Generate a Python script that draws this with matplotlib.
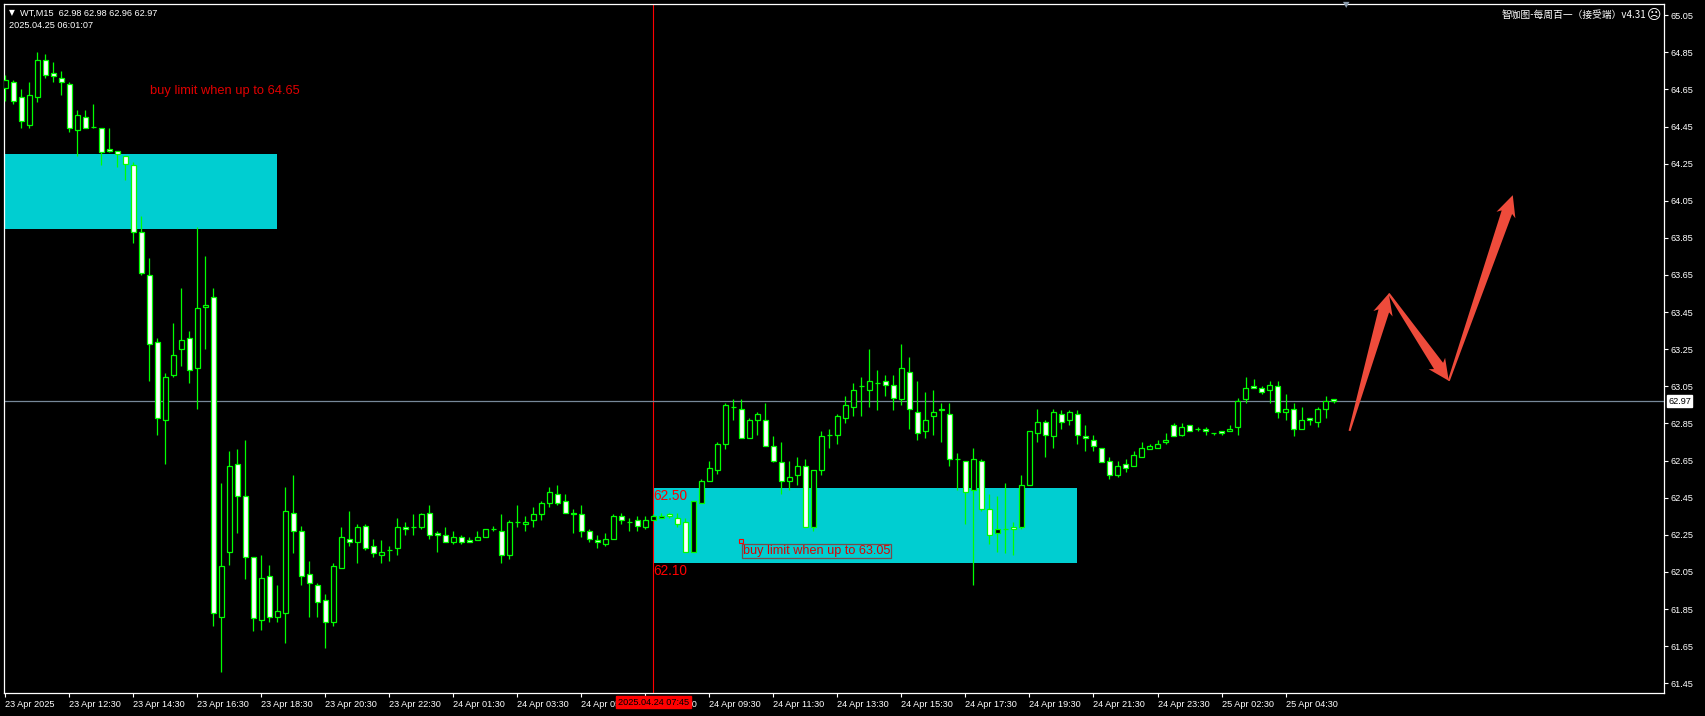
import numpy as np
import matplotlib
matplotlib.use('Agg')
import matplotlib.pyplot as plt
from matplotlib import font_manager
from matplotlib.patches import Rectangle, Polygon
from matplotlib.transforms import blended_transform_factory, IdentityTransform

W, H = 1706, 716

# WT M15 candles, 23 Apr 10:30 .. 25 Apr 06:00
opens = [64.66, 64.69, 64.61, 64.46, 64.61, 64.81, 64.74, 64.71, 64.68, 64.43,
         64.50, 64.45, 64.44, 64.33, 64.32, 64.29, 64.24, 63.88, 63.65, 63.29,
         62.87, 63.11, 63.25, 63.31, 63.15, 63.48, 63.53, 61.81, 62.16, 62.63,
         62.46, 62.13, 61.79, 62.03, 61.81, 61.83, 62.37, 62.27, 62.04, 61.98,
         61.90, 61.78, 62.07, 62.23, 62.21, 62.30, 62.19, 62.14, 62.17, 62.18,
         62.29, 62.29, 62.29, 62.37, 62.26, 62.25, 62.21, 62.24, 62.22, 62.22,
         62.24, 62.28, 62.27, 62.14, 62.32, 62.31, 62.33, 62.36, 62.42, 62.47,
         62.43, 62.37, 62.36, 62.27, 62.22, 62.20, 62.23, 62.35, 62.32, 62.33,
         62.29, 62.33, 62.34, 62.36, 62.34, 62.32, 62.16, 62.42, 62.54, 62.60,
         62.74, 62.94, 62.93, 62.77, 62.87, 62.87, 62.73, 62.64, 62.54, 62.57,
         62.62, 62.29, 62.60, 62.79, 62.79, 62.88, 62.94, 63.05, 63.03, 63.07,
         63.08, 63.06, 62.98, 63.13, 62.91, 62.81, 62.89, 62.93, 62.90, 62.66,
         62.65, 62.49, 62.65, 62.39, 62.26, 62.28, 62.29, 62.29, 62.52, 62.80,
         62.86, 62.78, 62.90, 62.87, 62.90, 62.78, 62.76, 62.72, 62.65, 62.57,
         62.63, 62.62, 62.67, 62.71, 62.72, 62.75, 62.84, 62.79, 62.84, 62.82,
         62.82, 62.80, 62.81, 62.81, 62.83, 62.98, 63.05, 63.04, 63.03, 63.05,
         62.91, 62.93, 62.82, 62.88, 62.86, 62.93, 62.98]
highs = [64.73, 64.70, 64.65, 64.69, 64.85, 64.84, 64.80, 64.75, 64.69, 64.54,
         64.54, 64.57, 64.44, 64.44, 64.32, 64.29, 64.26, 63.97, 63.74, 63.31,
         63.12, 63.39, 63.58, 63.35, 63.91, 63.75, 63.58, 62.53, 62.70, 62.71,
         62.76, 62.13, 62.14, 62.09, 61.98, 62.51, 62.57, 62.30, 62.11, 61.99,
         61.93, 62.10, 62.29, 62.38, 62.31, 62.31, 62.23, 62.22, 62.19, 62.34,
         62.32, 62.36, 62.37, 62.41, 62.27, 62.29, 62.27, 62.25, 62.24, 62.27,
         62.28, 62.30, 62.36, 62.33, 62.41, 62.35, 62.40, 62.43, 62.51, 62.52,
         62.47, 62.39, 62.41, 62.28, 62.25, 62.26, 62.36, 62.37, 62.34, 62.35,
         62.35, 62.36, 62.37, 62.37, 62.37, 62.34, 62.43, 62.55, 62.65, 62.75,
         62.96, 62.98, 62.98, 62.88, 62.91, 62.96, 62.78, 62.75, 62.65, 62.67,
         62.66, 62.60, 62.81, 62.82, 62.90, 63.00, 63.07, 63.10, 63.25, 63.14,
         63.11, 63.11, 63.28, 63.21, 63.08, 63.02, 63.03, 62.96, 62.96, 62.69,
         62.65, 62.72, 62.66, 62.47, 62.46, 62.53, 62.32, 62.57, 62.81, 62.93,
         62.87, 62.93, 62.92, 62.92, 62.92, 62.84, 62.79, 62.72, 62.67, 62.65,
         62.66, 62.70, 62.75, 62.74, 62.76, 62.80, 62.85, 62.85, 62.84, 62.83,
         62.83, 62.80, 62.81, 62.84, 62.99, 63.10, 63.09, 63.05, 63.08, 63.08,
         63.01, 62.96, 62.94, 62.88, 62.94, 63.00, 62.98]
lows = [64.59, 64.57, 64.44, 64.44, 64.58, 64.71, 64.69, 64.62, 64.42, 64.29,
        64.44, 64.44, 64.24, 64.31, 64.23, 64.16, 63.82, 63.65, 63.08, 62.79,
        62.63, 63.10, 63.16, 63.07, 62.93, 63.25, 61.76, 61.51, 62.09, 62.26,
        62.01, 61.73, 61.74, 61.78, 61.78, 61.67, 62.15, 61.98, 61.81, 61.81,
        61.64, 61.76, 62.07, 62.19, 62.10, 62.17, 62.13, 62.10, 62.11, 62.14,
        62.25, 62.25, 62.28, 62.23, 62.16, 62.21, 62.20, 62.20, 62.21, 62.22,
        62.24, 62.27, 62.10, 62.12, 62.29, 62.27, 62.29, 62.33, 62.40, 62.41,
        62.37, 62.26, 62.24, 62.21, 62.18, 62.19, 62.23, 62.31, 62.27, 62.27,
        62.28, 62.33, 62.34, 62.34, 62.29, 62.16, 62.16, 62.42, 62.54, 62.58,
        62.71, 62.87, 62.77, 62.77, 62.79, 62.73, 62.64, 62.47, 62.49, 62.52,
        62.29, 62.27, 62.57, 62.72, 62.74, 62.85, 62.89, 62.89, 62.94, 62.92,
        63.00, 62.92, 62.95, 62.82, 62.76, 62.77, 62.79, 62.75, 62.62, 62.49,
        62.31, 61.98, 62.38, 62.20, 62.16, 62.15, 62.14, 62.28, 62.52, 62.75,
        62.67, 62.72, 62.82, 62.84, 62.74, 62.70, 62.70, 62.64, 62.55, 62.56,
        62.59, 62.62, 62.67, 62.71, 62.72, 62.74, 62.78, 62.78, 62.81, 62.81,
        62.79, 62.79, 62.79, 62.81, 62.79, 62.96, 63.04, 63.01, 62.96, 62.88,
        62.87, 62.78, 62.82, 62.84, 62.83, 62.88, 62.96]
closes = [64.70, 64.59, 64.48, 64.62, 64.81, 64.73, 64.72, 64.69, 64.44, 64.51,
          64.44, 64.45, 64.31, 64.32, 64.30, 64.25, 63.88, 63.66, 63.28, 62.88,
          63.10, 63.22, 63.30, 63.14, 63.47, 63.49, 61.83, 62.08, 62.62, 62.46,
          62.13, 61.80, 62.02, 61.81, 61.84, 62.38, 62.27, 62.03, 61.99, 61.89,
          61.78, 62.08, 62.24, 62.21, 62.29, 62.18, 62.15, 62.16, 62.17, 62.29,
          62.28, 62.29, 62.36, 62.25, 62.25, 62.21, 62.24, 62.21, 62.21, 62.24,
          62.28, 62.28, 62.14, 62.32, 62.32, 62.32, 62.36, 62.42, 62.48, 62.42,
          62.37, 62.36, 62.27, 62.23, 62.21, 62.23, 62.35, 62.33, 62.32, 62.30,
          62.33, 62.35, 62.35, 62.35, 62.31, 62.16, 62.43, 62.54, 62.61, 62.74,
          62.95, 62.94, 62.77, 62.87, 62.90, 62.73, 62.65, 62.54, 62.56, 62.62,
          62.29, 62.60, 62.78, 62.79, 62.89, 62.95, 63.03, 63.05, 63.08, 63.07,
          63.06, 62.99, 63.15, 62.93, 62.80, 62.87, 62.91, 62.92, 62.66, 62.66,
          62.48, 62.66, 62.39, 62.25, 62.28, 62.28, 62.28, 62.52, 62.81, 62.86,
          62.79, 62.91, 62.86, 62.91, 62.79, 62.77, 62.73, 62.64, 62.57, 62.62,
          62.61, 62.68, 62.72, 62.73, 62.74, 62.76, 62.78, 62.83, 62.81, 62.82,
          62.81, 62.80, 62.80, 62.82, 62.97, 63.04, 63.04, 63.02, 63.06, 62.91,
          62.93, 62.82, 62.87, 62.87, 62.93, 62.97, 62.97]

time_labels = ['23 Apr 2025', '23 Apr 12:30', '23 Apr 14:30', '23 Apr 16:30', '23 Apr 18:30',
               '23 Apr 20:30', '23 Apr 22:30', '24 Apr 01:30', '24 Apr 03:30', '24 Apr 05:30',
               '24 Apr 07:30', '24 Apr 09:30', '24 Apr 11:30', '24 Apr 13:30', '24 Apr 15:30',
               '24 Apr 17:30', '24 Apr 19:30', '24 Apr 21:30', '24 Apr 23:30', '25 Apr 02:30',
               '25 Apr 04:30']
time_label_step = 8
price_ticks = [65.05, 64.85, 64.65, 64.45, 64.25, 64.05, 63.85, 63.65, 63.45, 63.25,
               63.05, 62.85, 62.65, 62.45, 62.25, 62.05, 61.85, 61.65, 61.45]

# zones: (first bar, last bar, low, high)
zones = [(-6, 34, 63.90, 64.30), (81, 134, 62.10, 62.50)]
marker_bar = 81
marker_time = '2025.04.24 07:45'
bid = 62.97
zigzag = [(168.0, 62.81), (172.9, 63.55), (180.4, 63.08), (188.4, 64.08)]

names = {f.name for f in font_manager.fontManager.ttflist}
NARROW = 'Liberation Sans Narrow' in names
UI = 'Liberation Sans Narrow' if NARROW else 'Liberation Sans'
ui_size = 8.0 if NARROW else 6.6

GREEN = '#00FF00'
CYAN = '#00CED1'
RED = '#FF0000'

fig = plt.figure(figsize=(W / 100, H / 100), dpi=100, facecolor='black')
ax = fig.add_axes([4.5 / W, (H - 693) / H, (1664 - 4.5) / W, (693 - 4) / H])
ax.set_facecolor('black')
ax.set_xlim(-0.1, 207.3)
ax.set_ylim(61.398, 65.11)

o = np.array(opens)
h = np.array(highs)
l = np.array(lows)
c = np.array(closes)
x = np.arange(len(o))

for x0, x1, lo, hi in zones:
    ax.add_patch(Rectangle((x0, lo), x1 - x0, hi - lo, facecolor=CYAN, edgecolor='none', zorder=1))

ax.axvline(marker_bar, color=RED, lw=0.8, zorder=1.5)
ax.axhline(bid, color='#778899', lw=0.9, zorder=2)

ax.vlines(x, l, h, color=GREEN, lw=0.9, zorder=3)
bear = c < o
body_lo = np.minimum(o, c)
body_h = np.abs(c - o)
ax.bar(x, body_h, bottom=body_lo, width=0.6,
       color=np.where(bear, 'white', 'black'), edgecolor=GREEN, linewidth=0.9, zorder=4)

# tapered zigzag arrows
pts = ax.transData.transform(zigzag)
for p0, p1 in zip(pts[:-1], pts[1:]):
    d = p1 - p0
    L = np.hypot(*d)
    u = d / L
    n = np.array([-u[1], u[0]])
    hl, hw, tw0, tw1 = 18, 10, 1.0, 5.5
    base = p1 - u * hl
    poly = [p0 + n * tw0, base + n * tw1, base - u * 3 + n * hw, p1,
            base - u * 3 - n * hw, base - n * tw1, p0 - n * tw0]
    ax.add_patch(Polygon(poly, closed=True, transform=IdentityTransform(),
                         facecolor='#EE4B3B', edgecolor='none', zorder=6))

# annotations
ax.text(18.1, 64.64, 'buy limit when up to 64.65', color='#E00000', fontsize=9.3,
        family='Liberation Sans', va='center', ha='left', zorder=7)
ax.text(zones[1][0], zones[1][3] - 0.005, '62.50', color=RED, fontsize=9.8,
        family='Liberation Sans', va='top', ha='left', zorder=7)
ax.text(zones[1][0], zones[1][2] - 0.005, '62.10', color=RED, fontsize=9.8,
        family='Liberation Sans', va='top', ha='left', zorder=7)
ax.text(92.2, 62.165, 'buy limit when up to 63.05', color='#E00000', fontsize=9.1,
        family='Liberation Sans', va='center', ha='left', zorder=7,
        bbox=dict(facecolor='none', edgecolor='#7A4A4A', pad=0.6, lw=0.9))
ax.plot([91.9], [62.218], marker='s', ms=3, mfc='none', mec=RED, mew=0.8, zorder=7)

# axes frame and ticks
for s in ax.spines.values():
    s.set_color('white')
    s.set_linewidth(0.9)
ax.yaxis.tick_right()
ax.set_yticks(price_ticks)
ax.set_yticklabels([f'{v:.2f}' for v in price_ticks])
ax.set_xticks(np.arange(len(time_labels)) * time_label_step)
ax.set_xticklabels(time_labels, ha='left')
ax.tick_params(axis='both', colors='white', labelcolor='white', length=3, width=0.8,
               labelsize=ui_size, pad=2)
for t in ax.get_xticklabels() + ax.get_yticklabels():
    t.set_family(UI)

tr_x = blended_transform_factory(ax.transData, ax.transAxes)
ax.text(marker_bar, -0.007, marker_time, transform=tr_x, ha='center', va='top',
        fontsize=ui_size, family=UI, color='black', clip_on=False, zorder=10,
        bbox=dict(facecolor=RED, edgecolor=RED, pad=1.2))
tr_y = blended_transform_factory(ax.transAxes, ax.transData)
ax.text(1.0025, bid, f'{bid:.2f}', transform=tr_y, ha='left', va='center',
        fontsize=ui_size, family=UI, color='black', clip_on=False, zorder=10,
        bbox=dict(facecolor='white', edgecolor='white', pad=1.0))

# header
fig.text(11.7 / W, 1 - 13 / H, '\u25bc', color='white', fontsize=5.5, family='DejaVu Sans',
         ha='center', va='center')
fig.text(20 / W, 1 - 13 / H, 'WT,M15  62.98 62.98 62.96 62.97', color='white',
         fontsize=ui_size, family=UI, ha='left', va='center')
fig.text(9.3 / W, 1 - 25.5 / H, '2025.04.25 06:01:07', color='white',
         fontsize=ui_size, family=UI, ha='left', va='center')
fig.text(1646 / W, 1 - 15 / H, '智咖图-每周百一（接受端）v4.31', color='white', fontsize=7,
         family=['Noto Sans CJK SC', 'DejaVu Sans'], ha='right', va='center')
fig.text(1654 / W, 1 - 15 / H, '\u2639', color='white', fontsize=10, family='DejaVu Sans',
         ha='center', va='center')
# small shift marker at the top edge
fig.text(1346 / W, 1 - 5 / H, '\u25bc', color='#8A9AAA', fontsize=6, family='DejaVu Sans',
         ha='center', va='center')

fig.savefig('out.png', dpi=100, facecolor='black')
